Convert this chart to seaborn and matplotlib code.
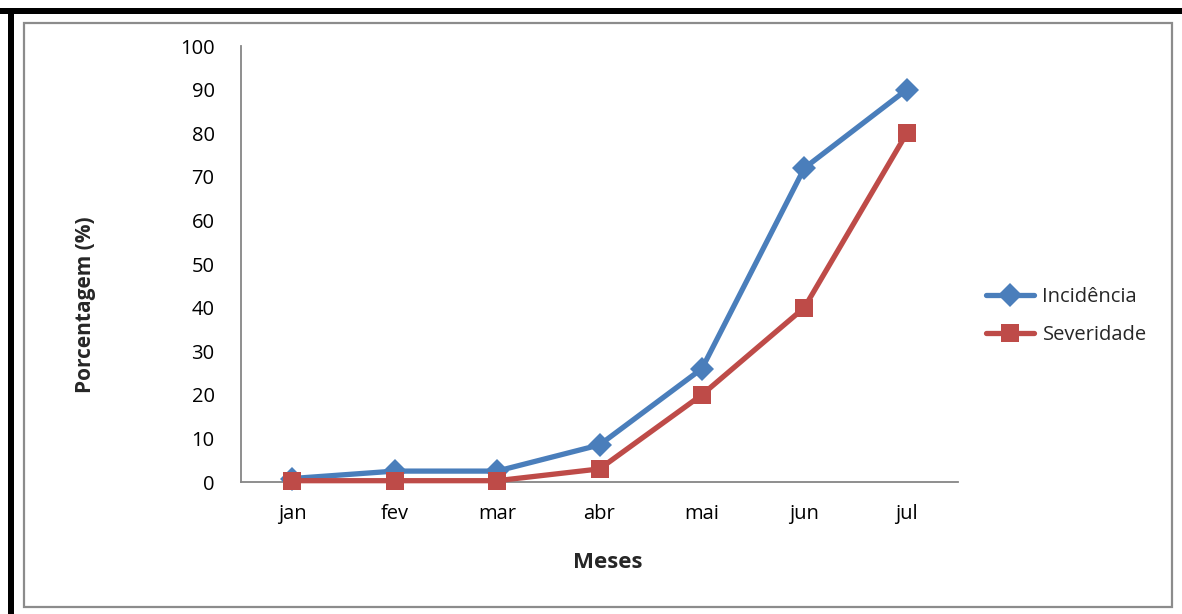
import matplotlib
matplotlib.use("Agg")
import matplotlib.pyplot as plt
from matplotlib.patches import Rectangle
from matplotlib.ticker import FixedLocator
import seaborn as sns
import pandas as pd

meses = ["jan", "fev", "mar", "abr", "mai", "jun", "jul"]
incidencia = [0.8, 2.5, 2.5, 8.5, 26, 72, 90]
severidade = [0.3, 0.3, 0.3, 3, 20, 40, 80]
series_names = ["Incidência", "Severidade"]
yticks = list(range(0, 101, 10))

sns.set_theme(style="white")
plt.rcParams["font.family"] = ["Open Sans", "DejaVu Sans"]

df = pd.DataFrame({
    "mes": meses * 2,
    "idx": list(range(len(meses))) * 2,
    "valor": incidencia + severidade,
    "serie": [series_names[0]] * len(meses) + [series_names[1]] * len(meses),
})

fig = plt.figure(figsize=(11.82, 6.14), dpi=100)
fig.patch.set_facecolor("white")
ax = fig.add_axes([241 / 1182, 1 - 482 / 614, (958 - 241) / 1182, (482 - 46) / 614])

palette = {series_names[0]: "#4A7EBB", series_names[1]: "#BE4B48"}
markers = {series_names[0]: "D", series_names[1]: "s"}
sns.lineplot(data=df, x="idx", y="valor", hue="serie", style="serie",
             palette=palette, markers=markers, dashes=False, linewidth=3.8,
             markersize=12.5, markeredgewidth=0, ax=ax, legend=True)
# keep markers sitting on the baseline fully visible
for line in ax.lines:
    line.set_clip_on(False)

ax.set_xlim(-0.5, len(meses) - 0.5)
ax.set_ylim(0, 100)
ax.set_yticks(yticks)
ax.set_yticklabels([str(t) for t in yticks], fontsize=14.5)
ax.set_xticks(range(len(meses)))
ax.set_xticklabels(meses, fontsize=14.5)
ax.xaxis.set_minor_locator(FixedLocator([i - 0.5 for i in range(len(meses) + 1)]))
ax.tick_params(axis="x", which="major", length=0, pad=16)
ax.tick_params(axis="x", which="minor", length=6, width=1.3, color="#868686", direction="out")
ax.tick_params(axis="y", which="major", length=8, width=1.3, color="#868686", direction="out", pad=11)
ax.tick_params(axis="both", which="major", labelcolor="black")

for side in ["top", "right"]:
    ax.spines[side].set_visible(False)
for side in ["left", "bottom"]:
    ax.spines[side].set_color("#868686")
    ax.spines[side].set_linewidth(1.3)
    ax.spines[side].set_zorder(1)
ax.set_facecolor("white")
ax.grid(False)

ax.set_xlabel("")
ax.set_ylabel("")
fig.text(85 / 1182, 1 - 305 / 614, "Porcentagem (%)", rotation=90, ha="center", va="center",
         fontsize=15, fontweight="bold")
fig.text(608 / 1182, 1 - 562 / 614, "Meses", ha="center", va="center",
         fontsize=16, fontweight="bold")

handles, labels = ax.get_legend_handles_labels()
ax.legend(handles, labels, loc="center left", bbox_to_anchor=(978 / 1182, 1 - 316 / 614),
          bbox_transform=fig.transFigure, frameon=False, fontsize=14.5,
          handlelength=2.4, handletextpad=0.4, labelspacing=0.9, borderaxespad=0)

# outer frame: thick black band along top and left, thin gray box inside
fig.patches.append(Rectangle((0, 1 - 14 / 614), 1, 6 / 614, transform=fig.transFigure,
                             facecolor="black", edgecolor="none"))
fig.patches.append(Rectangle((8 / 1182, 0), 6 / 1182, 1 - 8 / 614, transform=fig.transFigure,
                             facecolor="black", edgecolor="none"))
fig.patches.append(Rectangle((24 / 1182, 1 - 607 / 614), (1172 - 24) / 1182, (607 - 23) / 614,
                             transform=fig.transFigure, facecolor="none",
                             edgecolor="#8C8C8C", linewidth=1.6))

fig.savefig("out.png", dpi=100)
